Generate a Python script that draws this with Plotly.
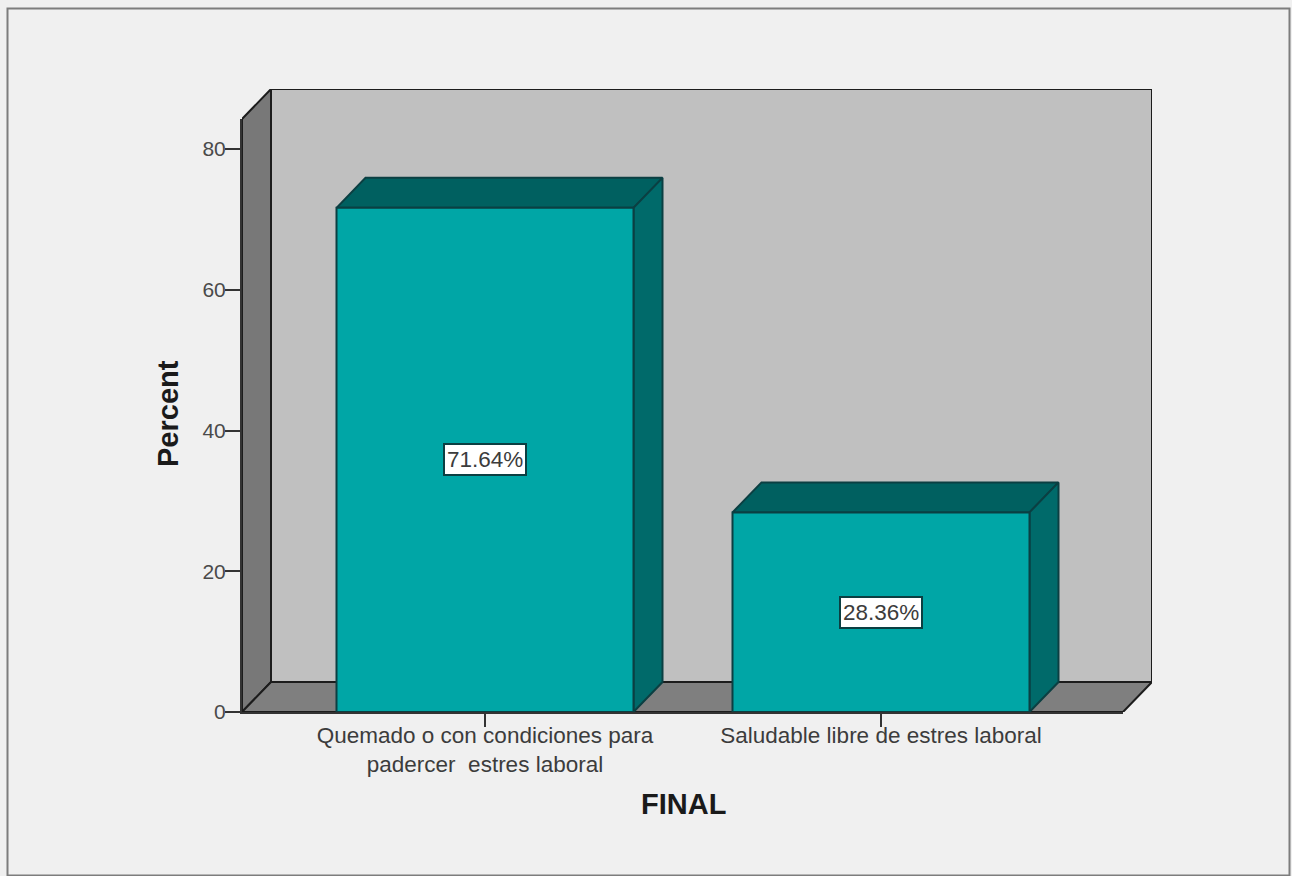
import plotly.graph_objects as go

categories = ["Quemado o con condiciones para<br>padercer  estres laboral", "Saludable libre de estres laboral"]
percent = [71.64, 28.36]
value_labels = ["71.64%", "28.36%"]
y_ticks = [0, 20, 40, 60, 80]
x_title = "FINAL"
y_title = "Percent"

W, H = 1292, 876
# pixel frame of the chart
AX_L, AX_R, AX_T, AX_B = 242, 1123, 119, 712
DEPTH_X, DEPTH_Y = 29, 30
PX_X, PX_Y = 396.0, 563 / 80
CENTER0 = 485
BAR_W = 0.75

xr = ((AX_L - CENTER0) / PX_X, (AX_R - CENTER0) / PX_X)
yr = (0, (AX_B - AX_T) / PX_Y)
dx, dy = DEPTH_X / PX_X, DEPTH_Y / PX_Y

FONT = "Liberation Sans, Arial, sans-serif"
EDGE = "#1c1c1c"
BAR_EDGE = "#0b3f42"
TITLE_FONT = dict(size=29, family=FONT, color="#1a1a1a", weight="bold")

fig = go.Figure()

def poly(xs, ys, fill, edge=EDGE):
    fig.add_trace(go.Scatter(
        x=xs, y=ys, xaxis="x", yaxis="y", mode="lines", fill="toself", fillcolor=fill,
        line=dict(color=edge, width=2), hoverinfo="skip", showlegend=False))

# chart box: back wall, left wall, floor
x0, x1, top = xr[0], xr[1], yr[1]
poly([x0 + dx, x1 + dx, x1 + dx, x0 + dx, x0 + dx], [dy, dy, top + dy, top + dy, dy], "#c0c0c0")
poly([x0, x0 + dx, x0 + dx, x0, x0], [0, dy, top + dy, top, 0], "#787878")
poly([x0, x1, x1 + dx, x0 + dx, x0], [0, 0, dy, dy, 0], "#7f7f7f")

# bar depth faces
for i, v in enumerate(percent):
    l, r = i - BAR_W / 2, i + BAR_W / 2
    poly([l, r, r + dx, l + dx, l], [v, v, v + dy, v + dy, v], "#006060", BAR_EDGE)
    poly([r, r + dx, r + dx, r, r], [0, dy, v + dy, v, 0], "#006a6a", BAR_EDGE)

# front faces on the visible axes
fig.add_trace(go.Bar(
    x=[0, 1], y=percent, width=BAR_W, xaxis="x2", yaxis="y2",
    marker=dict(color="#00a6a6", line=dict(color=BAR_EDGE, width=2)),
    hovertemplate="%{y:.2f}%<extra></extra>", showlegend=False))

annotations = [
    dict(x=i, y=v / 2, xref="x2", yref="y2", text=lab, showarrow=False,
         bgcolor="white", bordercolor=BAR_EDGE, borderwidth=2, borderpad=2,
         font=dict(family=FONT, size=22.5, color="#3c3c3c"))
    for i, (v, lab) in enumerate(zip(percent, value_labels))
]
annotations += [
    dict(x=683 / W, y=1 - 804 / H, xref="paper", yref="paper", xanchor="center", yanchor="middle",
         text=x_title, showarrow=False, font=TITLE_FONT),
    dict(x=168 / W, y=1 - 414 / H, xref="paper", yref="paper", xanchor="center", yanchor="middle",
         text=y_title, showarrow=False, textangle=-90, font=TITLE_FONT),
]

fig.update_layout(
    template="none",
    width=W, height=H, margin=dict(l=0, r=0, t=0, b=0), autosize=False,
    paper_bgcolor="#f0f0f0", plot_bgcolor="rgba(0,0,0,0)",
    font=dict(family=FONT, color="#3c3c3c"),
    annotations=annotations,
    shapes=[dict(type="rect", xref="paper", yref="paper", x0=7.5 / W, x1=1289.5 / W,
                 y0=0.5 / H, y1=1 - 8.5 / H, line=dict(color="#7d7d7d", width=2),
                 fillcolor="rgba(0,0,0,0)", layer="below")],
    # hidden axes that also hold the depth of the box
    xaxis=dict(domain=[AX_L / W, (AX_R + DEPTH_X) / W], range=[x0, x1 + dx], visible=False, anchor="y",
               automargin=False),
    yaxis=dict(domain=[1 - AX_B / H, 1 - (AX_T - DEPTH_Y) / H], range=[0, top + dy], visible=False, anchor="x",
               automargin=False),
    # visible axes
    xaxis2=dict(domain=[AX_L / W, AX_R / W], range=list(xr), anchor="y2", automargin=False,
                tickmode="array", tickvals=[0, 1], ticktext=categories,
                ticks="outside", ticklen=13, tickwidth=2, tickcolor="#333333",
                ticklabelstandoff=-11,
                tickfont=dict(size=22.5, family=FONT, color="#3c3c3c"),
                showline=True, linecolor="#333333", linewidth=2, showgrid=False, zeroline=False),
    yaxis2=dict(domain=[1 - AX_B / H, 1 - AX_T / H], range=list(yr), anchor="x2", automargin=False,
                tickmode="array", tickvals=y_ticks,
                ticks="outside", ticklen=15, tickwidth=2, tickcolor="#333333",
                ticklabelstandoff=-5,
                tickfont=dict(size=21, family=FONT, color="#4a4a4a"),
                showline=True, linecolor="#333333", linewidth=2, showgrid=False, zeroline=False),
)

fig.write_html("out.html", config=dict(displayModeBar=False),
               post_script="document.body.style.margin='0';document.body.style.overflow='hidden';")
